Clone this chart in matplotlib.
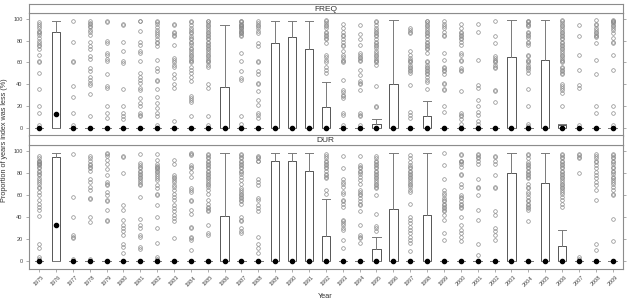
import matplotlib.pyplot as plt

plt.rcParams['font.family'] = ['Liberation Sans', 'DejaVu Sans']

years = ['1975', '1976', '1977', '1978', '1979', '1980', '1981', '1982', '1983',
         '1984', '1985', '1986', '1987', '1988', '1989', '1990', '1991', '1992',
         '1993', '1994', '1995', '1996', '1997', '1998', '1999', '2000', '2001',
         '2002', '2003', '2004', '2005', '2006', '2007', '2008', '2009']

# FREQ panel: upper quartile, median, upper whisker (lower quartile / whisker = 0)
freq_q3 = [0, 87.5, 0, 0, 0, 0, 0, 0, 0, 0, 0, 37.5, 0, 0, 77.5, 83.5, 72, 19,
           0, 0, 4, 40, 0, 11, 0, 0, 0, 0, 65, 0, 62, 2.5, 0, 0, 0]
freq_med = [0, 13, 0, 0, 0, 0, 0, 0, 0, 0, 0, 0, 0, 0, 0, 0, 0, 0,
            0, 0, 0, 0, 0, 0, 0, 0, 0, 0, 0, 0, 0, 0, 0, 0, 0]
freq_hi = [0, 97.5, 0, 0, 0, 0, 0, 0, 0, 0, 0, 94.5, 0, 0, 97.5, 97.5, 97.5, 42.5,
           0, 0, 8.5, 98.5, 0, 24.5, 0, 0, 0, 0, 98.5, 0, 98.5, 3.5, 0, 0, 0]
freq_out = [
    [97, 95, 93, 91, 89, 88, 87, 85, 82, 80, 78, 76, 75, 72, 67, 61, 60, 50, 36, 20, 14, 3],
    [],
    [98, 79, 61, 60, 38, 28, 14, 3],
    [98, 96, 95, 93, 92, 90, 88, 85, 79, 75, 72, 66, 63, 55, 52, 47, 44, 41, 39, 31, 11],
    [98, 97, 80, 78, 69, 67, 63, 61, 49, 38, 37, 20, 14, 9],
    [95, 94, 79, 70, 61, 59, 36, 20, 14, 11, 8],
    [98, 98, 89, 79, 76, 70, 69, 61, 50, 47, 44, 41, 37, 35, 27, 23, 20, 14, 12, 11],
    [98, 97, 95, 92, 90, 88, 86, 84, 81, 79, 78, 75, 62, 55, 52, 44, 43, 36, 28, 23, 18, 14, 11, 3],
    [95, 94, 88, 87, 85, 84, 76, 64, 62, 60, 58, 56, 49, 46, 40, 37, 6],
    [98, 97, 94, 91, 90, 88, 87, 84, 82, 81, 79, 78, 76, 73, 72, 70, 69, 67, 66, 64, 62, 61,
     60, 56, 53, 50, 47, 43, 29, 27, 26, 24, 11],
    [98, 98, 96, 94, 93, 91, 90, 88, 87, 85, 84, 82, 81, 79, 78, 76, 75, 73, 72, 70, 69, 67,
     66, 64, 62, 61, 60, 58, 56, 40, 37, 11, 3],
    [],
    [98, 98, 97, 95, 94, 94, 93, 92, 91, 91, 90, 89, 88, 87, 87, 85, 84, 69, 61, 52, 46, 44, 11, 4],
    [98, 96, 94, 93, 91, 89, 87, 78, 75, 61, 60, 52, 49, 41, 40, 34, 26, 21, 14, 12, 9],
    [], [], [],
    [99, 98, 96, 94, 93, 91, 88, 87, 85, 84, 82, 81, 78, 67, 65, 62, 60, 56, 53, 50],
    [95, 91, 88, 85, 84, 81, 79, 76, 75, 70, 67, 65, 62, 61, 60, 44, 35, 33, 30, 29, 27, 14, 12, 3],
    [94, 86, 81, 76, 69, 67, 65, 64, 62, 61, 53, 48, 43, 41, 40, 35, 14, 12, 11, 3],
    [98, 97, 94, 91, 90, 88, 87, 85, 84, 81, 79, 78, 76, 75, 73, 70, 69, 67, 66, 64, 62, 61,
     60, 58, 38, 20, 19],
    [],
    [91, 90, 88, 87, 70, 67, 64, 62, 61, 60, 58, 56, 55, 53, 52, 50, 39, 15, 12, 9],
    [98, 98, 96, 94, 93, 91, 90, 88, 87, 85, 84, 81, 79, 78, 76, 75, 73, 72, 69, 61, 60, 58,
     56, 55, 53, 52, 50, 49, 47, 44, 42, 36],
    [98, 95, 93, 91, 88, 85, 84, 69, 62, 56, 55, 53, 52, 49, 41, 40, 36, 35, 20, 15],
    [95, 91, 88, 87, 85, 84, 82, 81, 79, 76, 69, 67, 62, 61, 55, 53, 52, 34, 14, 12, 11, 8, 4],
    [95, 88, 62, 39, 37, 26, 20, 15, 12, 6, 4],
    [98, 84, 78, 66, 64, 62, 61, 60, 58, 56, 55, 35, 34, 24],
    [],
    [98, 98, 97, 95, 94, 93, 88, 87, 85, 84, 82, 79, 78, 76, 67, 66, 62, 61, 60, 58, 56, 55,
     53, 50, 36, 20, 4, 2],
    [],
    [99, 98, 96, 94, 93, 91, 90, 88, 87, 85, 84, 82, 81, 79, 78, 76, 75, 73, 72, 70, 69, 67,
     66, 64, 62, 61, 60, 56, 55, 53, 52, 50, 49, 40, 38, 37, 35, 32, 20],
    [94, 84, 67, 53, 39, 37, 3],
    [99, 95, 94, 91, 90, 88, 87, 85, 84, 83, 78, 62, 49, 20, 14],
    [99, 98, 98, 97, 96, 94, 93, 91, 90, 87, 82, 79, 78, 67, 53, 20, 14, 3],
]

# DUR panel
dur_q3 = [0, 94, 0, 0, 0, 0, 0, 0, 0, 0, 0, 41, 0, 0, 91, 91, 82, 23,
          0, 0, 10.5, 47, 0, 42, 0, 0, 0, 0, 80, 0, 71, 14, 0, 0, 0]
dur_med = [0, 32.5, 0, 0, 0, 0, 0, 0, 0, 0, 0, 0, 0, 0, 0, 0, 0, 0,
           0, 0, 0, 0, 0, 0, 0, 0, 0, 0, 0, 0, 0, 0, 0, 0, 0]
dur_hi = [0, 97.5, 0, 0, 0, 0, 0, 0, 0, 0, 0, 97.5, 0, 0, 97.5, 97.5, 97.5, 56.5,
          0, 0, 21.5, 97.5, 0, 97.5, 0, 0, 0, 0, 97.5, 0, 97.5, 28, 0, 0, 0]
dur_out = [
    [95, 93, 91, 91, 90, 89, 88, 88, 87, 85, 84, 82, 81, 79, 78, 75, 73, 72, 70, 67, 66, 63,
     60, 55, 52, 49, 46, 41, 15, 12, 4, 2],
    [],
    [97, 58, 40, 24, 22, 21, 2],
    [95, 93, 91, 88, 87, 85, 84, 82, 74, 72, 67, 64, 57, 56, 40, 35, 2],
    [98, 97, 95, 92, 88, 83, 78, 72, 70, 69, 63, 60, 55, 54, 46, 37, 36],
    [95, 94, 80, 51, 46, 37, 33, 30, 27, 24, 15, 13, 7],
    [97, 89, 87, 85, 84, 82, 81, 79, 78, 76, 75, 73, 72, 70, 69, 58, 38, 33, 30, 24, 22, 13, 11],
    [97, 92, 88, 86, 85, 84, 83, 82, 81, 79, 77, 75, 73, 69, 66, 61, 60, 51, 40, 30, 16, 4, 2],
    [92, 88, 78, 76, 75, 73, 72, 69, 67, 64, 61, 58, 55, 51, 48, 45, 42, 39, 36, 21],
    [98, 97, 96, 87, 85, 84, 81, 76, 66, 64, 63, 55, 54, 46, 43, 31, 30, 22, 21, 19, 10],
    [97, 96, 94, 93, 91, 90, 88, 87, 85, 84, 82, 81, 79, 78, 76, 75, 73, 72, 70, 69, 67, 64,
     61, 55, 52, 49, 48, 46, 45, 33, 25, 24],
    [],
    [97, 96, 94, 93, 91, 90, 88, 87, 85, 84, 82, 81, 79, 76, 73, 70, 66, 64, 63, 61, 60, 58,
     57, 55, 54, 52, 40, 37, 36, 30, 27, 25],
    [95, 94, 93, 91, 91, 74, 72, 69, 57, 55, 51, 48, 45, 22, 15, 12, 7],
    [], [], [],
    [97, 95, 93, 91, 90, 88, 87, 85, 84, 82, 79, 78, 76, 75, 64, 61],
    [95, 84, 74, 72, 70, 67, 63, 61, 55, 54, 52, 49, 37, 36, 34, 33, 30, 28, 19, 12],
    [95, 87, 85, 84, 82, 81, 79, 76, 73, 70, 64, 63, 61, 60, 57, 54, 52, 51, 45, 33, 24, 22, 21, 16],
    [95, 93, 91, 90, 88, 87, 85, 84, 82, 81, 79, 78, 76, 75, 73, 72, 70, 69, 67, 66, 60, 43,
     32, 30, 27],
    [],
    [96, 93, 90, 87, 85, 84, 82, 81, 79, 78, 76, 75, 73, 72, 70, 69, 67, 64, 63, 52, 40, 37,
     34, 31, 28, 25, 22, 19, 16, 9],
    [],
    [98, 87, 74, 64, 62, 60, 57, 55, 54, 52, 51, 49, 48, 46, 45, 42, 37, 25, 19],
    [97, 96, 91, 91, 90, 88, 85, 79, 78, 70, 67, 60, 58, 57, 54, 52, 51, 49, 48, 40, 33, 28,
     25, 22, 18],
    [97, 96, 94, 93, 91, 88, 74, 67, 66, 60, 46, 37, 15, 5],
    [95, 94, 91, 88, 78, 67, 66, 45, 42, 30, 27, 24, 19],
    [],
    [97, 96, 93, 90, 88, 87, 85, 84, 82, 81, 79, 78, 76, 75, 70, 67, 66, 63, 61, 58, 55, 54,
     52, 51, 49, 48, 46, 36],
    [],
    [97, 96, 94, 93, 91, 90, 88, 87, 85, 84, 82, 81, 79, 78, 76, 75, 73, 72, 70, 69, 67, 66,
     64, 63, 61, 58, 55, 52, 49],
    [97, 96, 94, 93, 80, 4, 2],
    [97, 95, 93, 91, 90, 87, 84, 81, 78, 75, 72, 69, 64, 55, 15, 10],
    [97, 96, 94, 93, 91, 90, 88, 85, 84, 82, 81, 79, 76, 75, 73, 72, 70, 67, 64, 61, 60, 38, 18],
]

W, H = 629, 305
def rect(x0, y0, x1, y1):
    return [x0 / W, 1 - y1 / H, (x1 - x0) / W, (y1 - y0) / H]

edge = '#8c8c8c'
txt = '#444444'

def draw_panel(ax, q3, med, hi, out):
    pos = list(range(1, len(years) + 1))
    stats = [dict(q1=0, med=m, q3=t, whislo=0, whishi=h, fliers=o)
             for t, m, h, o in zip(q3, med, hi, out)]
    ax.bxp(stats, positions=pos, widths=0.5, capwidths=0.5, showfliers=True,
           boxprops=dict(color='#555555', lw=0.7),
           whiskerprops=dict(color='#7a7a7a', lw=0.7),
           capprops=dict(color='#7a7a7a', lw=0.7),
           medianprops=dict(lw=0),
           flierprops=dict(marker='o', mfc='none', mec='#8a8a8a', ms=2.6, mew=0.5))
    ax.plot(pos, med, 'o', color='black', ms=3.0, zorder=5)
    ax.set_xlim(0.4, len(years) + 0.6)
    ax.set_ylim(-6.9, 104.9)
    ax.set_yticks([0, 20, 40, 60, 80, 100])
    for s in ax.spines.values():
        s.set_color(edge)
        s.set_linewidth(0.8)
    ax.tick_params(axis='y', left=True, right=True, labelright=False, direction='out',
                   length=2.5, width=0.5, color=edge, labelsize=4, labelcolor=txt, pad=2)

def draw_strip(ax, label):
    ax.set_xticks([])
    ax.set_yticks([])
    for s in ax.spines.values():
        s.set_color(edge)
        s.set_linewidth(0.8)
    ax.text(0.5, 0.45, label, ha='center', va='center', fontsize=6, color='#333333',
            transform=ax.transAxes)

fig = plt.figure(figsize=(W / 100, H / 100), dpi=100)
ax_top = fig.add_axes(rect(28.9, 13.3, 622.8, 135.5))
ax_bot = fig.add_axes(rect(28.9, 145.3, 622.8, 268.6))
st_top = fig.add_axes(rect(28.9, 4.3, 622.8, 13.3))
st_bot = fig.add_axes(rect(28.9, 135.5, 622.8, 145.3))

draw_panel(ax_top, freq_q3, freq_med, freq_hi, freq_out)
draw_panel(ax_bot, dur_q3, dur_med, dur_hi, dur_out)
draw_strip(st_top, 'FREQ')
draw_strip(st_bot, 'DUR')

ax_top.tick_params(axis='x', bottom=False, labelbottom=False)
ax_bot.set_xticks(range(1, len(years) + 1))
ax_bot.set_xticklabels(years, rotation=45, ha='center', va='top')
ax_bot.tick_params(axis='x', direction='out', length=2.5, width=0.5, color=edge,
                   labelsize=4, labelcolor=txt, pad=2)

fig.text(325.5 / W, 1 - 297 / H, 'Year', ha='center', va='center', fontsize=5.2, color='#333333')
fig.text(5 / W, 1 - 140 / H, 'Proportion of years index was less (%)', rotation=90,
         ha='center', va='center', fontsize=5.2, color='#333333')

fig.savefig('out.png', dpi=100)
